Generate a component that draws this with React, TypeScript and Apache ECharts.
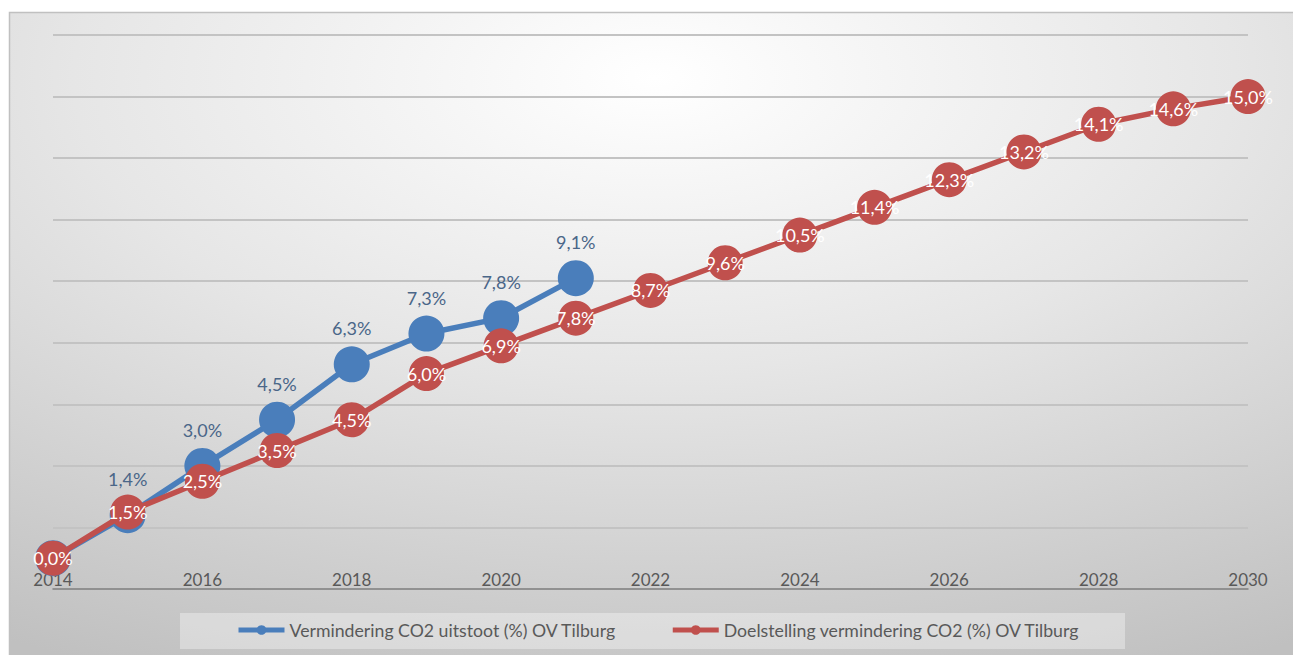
import React, { useEffect, useRef } from "react";
import * as echarts from "echarts";

const years = ["2014","2015","2016","2017","2018","2019","2020","2021","2022","2023","2024","2025","2026","2027","2028","2029","2030"];
const actualValues = [0.0, 1.4, 3.0, 4.5, 6.3, 7.3, 7.8, 9.1];
const targetValues = [0.0, 1.5, 2.5, 3.5, 4.5, 6.0, 6.9, 7.8, 8.7, 9.6, 10.5, 11.4, 12.3, 13.2, 14.1, 14.6, 15.0];
const actualName = "Vermindering CO2 uitstoot (%) OV Tilburg";
const targetName = "Doelstelling vermindering CO2 (%) OV Tilburg";

const FONT = "Lato, Carlito, 'Open Sans', sans-serif";
const fmt = (v: number) => v.toFixed(1).replace(".", ",") + "%";

export default function App() {
  const ref = useRef<HTMLDivElement>(null);
  useEffect(() => {
    if (!ref.current) return;
    const chart = echarts.init(ref.current, undefined, { renderer: "svg" });
    const blueData = years.map((_, i) => {
      if (i >= actualValues.length) return null;
      if (i === 0) return { value: actualValues[i], label: { show: false } };
      return actualValues[i];
    });
    chart.setOption({
      animation: false,
      graphic: {
        elements: [
          {
            type: "rect",
            z: -10,
            silent: true,
            shape: { x: 9.5, y: 12.5, width: 1290, height: 650 },
            style: {
              fill: {
                type: "radial",
                x: 0.5,
                y: 0.1,
                r: 1.0,
                colorStops: [
                  { offset: 0, color: "#ffffff" },
                  { offset: 0.45, color: "#e6e6e6" },
                  { offset: 1, color: "#c0c0c0" },
                ],
              },
              stroke: "#c0c0c0",
              lineWidth: 1.5,
            },
          },
          {
            type: "rect",
            z: -5,
            silent: true,
            shape: { x: 180, y: 613, width: 945, height: 36 },
            style: { fill: "rgba(255,255,255,0.35)" },
          },
        ],
      },
      grid: { left: 53, right: 45, top: 35, bottom: 66, containLabel: false },
      legend: {
        left: 236,
        top: 621,
        padding: 0,
        itemWidth: 46,
        itemHeight: 12,
        itemGap: 54,
        lineStyle: { width: 5 },
        textStyle: { fontFamily: FONT, fontSize: 17.7, color: "#595959" },
        data: [actualName, targetName],
      },
      xAxis: {
        type: "category",
        data: years,
        boundaryGap: false,
        axisLine: { onZero: false, lineStyle: { color: "#808080", width: 1.5 } },
        axisTick: { show: false },
        axisLabel: {
          inside: true,
          margin: 1,
          interval: 1,
          fontFamily: FONT,
          fontSize: 17,
          color: "#595959",
        },
        splitLine: { show: false },
      },
      yAxis: {
        type: "value",
        min: -1,
        max: 17,
        interval: 2,
        axisLine: { show: false },
        axisTick: { show: false },
        axisLabel: { show: false },
        splitLine: { lineStyle: { color: "#c3c3c3", width: 2 } },
      },
      series: [
        {
          name: actualName,
          type: "line",
          data: blueData,
          symbol: "circle",
          symbolSize: 36,
          lineStyle: { color: "#4A7EBB", width: 5.5 },
          itemStyle: { color: "#4A7EBB" },
          label: {
            show: true,
            position: "top",
            distance: 9,
            fontFamily: FONT,
            fontSize: 18,
            color: "#4a6688",
            formatter: (p: any) => fmt(Number(p.value)),
          },
          z: 2,
        },
        {
          name: targetName,
          type: "line",
          data: targetValues,
          symbol: "circle",
          symbolSize: 35,
          lineStyle: { color: "#C0504D", width: 5.5 },
          itemStyle: { color: "#C0504D" },
          label: {
            show: true,
            position: "inside",
            fontFamily: FONT,
            fontSize: 18,
            color: "#ffffff",
            formatter: (p: any) => fmt(Number(p.value)),
          },
          z: 3,
        },
      ],
    });
    return () => chart.dispose();
  }, []);
  return (
    <div
      ref={ref}
      style={{ position: "absolute", left: 0, top: 0, width: 1293, height: 655 }}
    />
  );
}
